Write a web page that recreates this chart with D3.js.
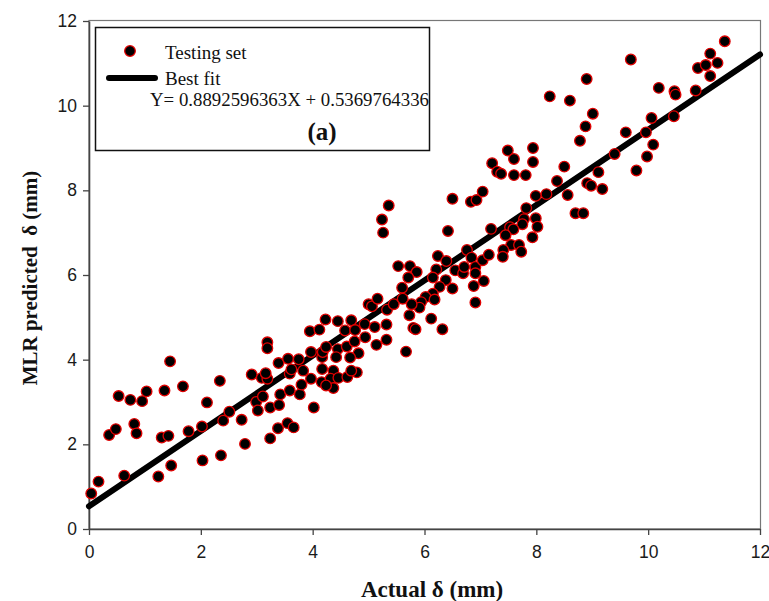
<!DOCTYPE html>
<html>
<head>
<meta charset="utf-8">
<script src="https://cdn.jsdelivr.net/npm/d3@7/dist/d3.min.js"></script>
<style>
html,body{margin:0;padding:0;background:#fff;}
svg{display:block;}
</style>
</head>
<body>
<svg id="chart" width="769" height="601"></svg>
<script>
const actual = [
0.04,0.17,0.36,0.48,0.53,0.63,0.74,0.81,0.85,0.95,1.03,1.24,1.30,1.42,1.35,1.45,1.47,1.68,1.78,2.02,
2.03,2.11,2.34,2.36,2.40,2.51,2.73,2.79,2.91,2.99,3.02,3.11,3.19,3.19,3.09,3.19,3.16,3.24,3.24,3.40,
3.39,3.38,3.42,3.56,3.55,3.59,3.66,3.59,3.62,3.75,3.77,3.80,3.83,3.97,3.95,4.12,4.23,4.02,3.97,4.17,
4.18,4.24,4.17,4.16,4.45,4.69,4.58,4.76,4.93,4.45,4.42,4.61,4.82,4.75,4.94,4.67,4.37,4.32,4.46,4.62,
4.79,4.69,4.37,4.24,5.00,5.06,5.16,5.11,5.14,5.32,5.32,5.33,5.45,5.36,5.24,5.26,6.50,6.83,6.93,7.04,
6.42,5.53,5.74,5.86,5.71,6.24,6.39,6.21,6.15,6.38,6.55,6.69,6.71,6.76,6.84,6.91,6.91,7.04,7.15,7.06,
6.88,6.50,6.27,5.60,5.61,6.15,6.02,6.18,5.94,5.91,5.77,5.73,5.80,5.84,6.12,6.32,5.67,6.91,8.88,8.78,
7.49,7.94,7.60,7.94,7.21,7.30,7.37,7.60,7.81,8.50,8.37,9.11,8.91,8.98,9.18,9.40,8.18,7.99,8.56,7.82,
8.70,8.84,7.99,8.02,7.78,7.75,7.19,7.53,7.59,7.45,7.93,7.55,7.69,7.73,7.41,7.40,8.24,8.60,8.90,9.01,
11.37,11.11,10.89,11.03,11.24,11.11,9.69,10.19,10.47,10.49,10.85,10.06,10.46,9.60,9.96,10.09,9.98,9.79
];
const predicted = [
0.84,1.12,2.22,2.36,3.14,1.26,3.05,2.48,2.26,3.02,3.25,1.24,2.16,2.20,3.27,3.96,1.50,3.37,2.31,2.42,
1.62,2.99,3.50,1.74,2.56,2.77,2.58,2.01,3.65,3.00,2.80,3.13,4.41,4.27,3.57,3.55,3.68,2.87,2.14,2.93,
3.92,2.38,3.18,4.02,2.50,3.27,2.40,3.67,3.77,4.01,3.18,3.41,3.74,3.55,4.67,4.71,4.95,2.87,4.18,4.06,
4.18,4.30,3.78,3.47,4.91,4.93,4.69,4.70,4.84,4.25,4.06,4.31,4.15,4.43,4.53,4.05,3.74,3.55,3.57,3.59,
3.70,3.74,3.33,3.39,5.31,5.26,5.44,4.77,4.35,4.83,4.47,5.18,5.31,7.64,7.31,7.00,7.80,7.73,7.77,7.97,
7.04,6.21,6.21,6.07,5.94,6.45,6.33,6.13,5.94,5.88,6.11,6.04,6.19,6.59,6.41,6.19,6.04,6.35,6.48,5.86,
5.74,5.68,5.72,5.70,5.44,5.56,5.48,5.42,5.36,5.23,5.31,5.05,4.75,4.72,4.97,4.72,4.19,5.35,9.51,9.17,
8.94,9.00,8.74,8.67,8.64,8.44,8.39,8.36,8.36,8.56,8.22,8.43,8.17,8.11,8.03,8.86,7.91,7.87,7.89,7.58,
7.46,7.46,7.34,7.14,7.32,7.20,7.09,7.13,7.08,6.94,6.89,6.71,6.71,6.55,6.59,6.43,10.22,10.12,10.63,9.81,
11.52,11.23,10.89,10.96,11.01,10.70,11.09,10.42,10.34,10.26,10.36,9.71,9.75,9.37,9.37,9.08,8.80,8.47
];
const xTicks = [0,2,4,6,8,10,12];
const yTicks = [0,2,4,6,8,10,12];
const slope = 0.8892596363, intercept = 0.5369764336;
const legendLabels = ["Testing set","Best fit"];
const equationText = "Y= 0.8892596363X + 0.5369764336";
const panelLabel = "(a)";

const svg = d3.select("#chart");
const x = d3.scaleLinear().domain([0,12]).range([89,760]);
const y = d3.scaleLinear().domain([0,12]).range([529,21]);

// frame (top/right)
svg.append("rect").attr("x",89).attr("y",20.5).attr("width",671.5).attr("height",508.5)
  .attr("fill","none").attr("stroke","#777").attr("stroke-width",1.2);

// axes
const xAxis = svg.append("g").attr("transform","translate(0,529)")
  .call(d3.axisBottom(x).tickValues(xTicks).tickSize(6).tickSizeOuter(0).tickFormat(d3.format("d")));
const yAxis = svg.append("g").attr("transform","translate(89,0)")
  .call(d3.axisLeft(y).tickValues(yTicks).tickSize(6).tickSizeOuter(0).tickFormat(d3.format("d")));
[xAxis,yAxis].forEach(g=>{
  g.select(".domain").attr("stroke","#444").attr("stroke-width",1.6);
  g.selectAll(".tick line").attr("stroke","#444").attr("stroke-width",1.3);
  g.selectAll(".tick text").attr("fill","#1a1a1a")
    .style("font-family","'Liberation Sans',Arial,sans-serif").style("font-size","17.5px");
});
xAxis.selectAll(".tick text").attr("dy","1.15em");
yAxis.selectAll(".tick text").attr("x",-12);

// best fit line
svg.append("line")
  .attr("x1",x(0)).attr("y1",y(intercept))
  .attr("x2",x(12)).attr("y2",y(slope*12+intercept))
  .attr("stroke","#000").attr("stroke-width",6).attr("stroke-linecap","round");

// points
svg.append("g").selectAll("circle").data(actual.map((a,i)=>[a,predicted[i]])).join("circle")
  .attr("cx",d=>x(d[0])).attr("cy",d=>y(d[1])).attr("r",5.3)
  .attr("fill","#000").attr("stroke","#e00000").attr("stroke-width",1.3);

// legend box
const lg = svg.append("g");
lg.append("rect").attr("x",95.5).attr("y",27.5).attr("width",334).attr("height",123)
  .attr("fill","#fff").attr("stroke","#111").attr("stroke-width",1.5);
lg.append("circle").attr("cx",130).attr("cy",51).attr("r",5.3)
  .attr("fill","#000").attr("stroke","#e00000").attr("stroke-width",1.3);
lg.append("line").attr("x1",109).attr("x2",155).attr("y1",78).attr("y2",78)
  .attr("stroke","#000").attr("stroke-width",6).attr("stroke-linecap","round");
const serif = "'Liberation Serif','Times New Roman',serif";
lg.append("text").attr("x",165).attr("y",59).text(legendLabels[0])
  .style("font-family",serif).style("font-size","19px").attr("fill","#111");
lg.append("text").attr("x",165).attr("y",85).text(legendLabels[1])
  .style("font-family",serif).style("font-size","19px").attr("fill","#111");
lg.append("text").attr("x",150).attr("y",106).attr("textLength",279).attr("lengthAdjust","spacingAndGlyphs")
  .text(equationText)
  .style("font-family",serif).style("font-size","18.8px").attr("fill","#111");
lg.append("text").attr("x",322).attr("y",140).attr("text-anchor","middle").text(panelLabel)
  .style("font-family",serif).style("font-size","25px").style("font-weight","bold").attr("fill","#111");

// axis titles
svg.append("text").attr("x",432).attr("y",597).attr("text-anchor","middle")
  .text("Actual \u03B4 (mm)")
  .style("font-family",serif).style("font-size","23px").style("font-weight","bold").attr("fill","#111");
svg.append("text").attr("transform","translate(37,278) rotate(-90)").attr("text-anchor","middle")
  .attr("xml:space","preserve").style("white-space","pre")
  .text("MLR predicted  \u03B4 (mm)")
  .style("font-family",serif).style("font-size","21px").style("font-weight","bold").attr("fill","#111");
</script>
</body>
</html>
